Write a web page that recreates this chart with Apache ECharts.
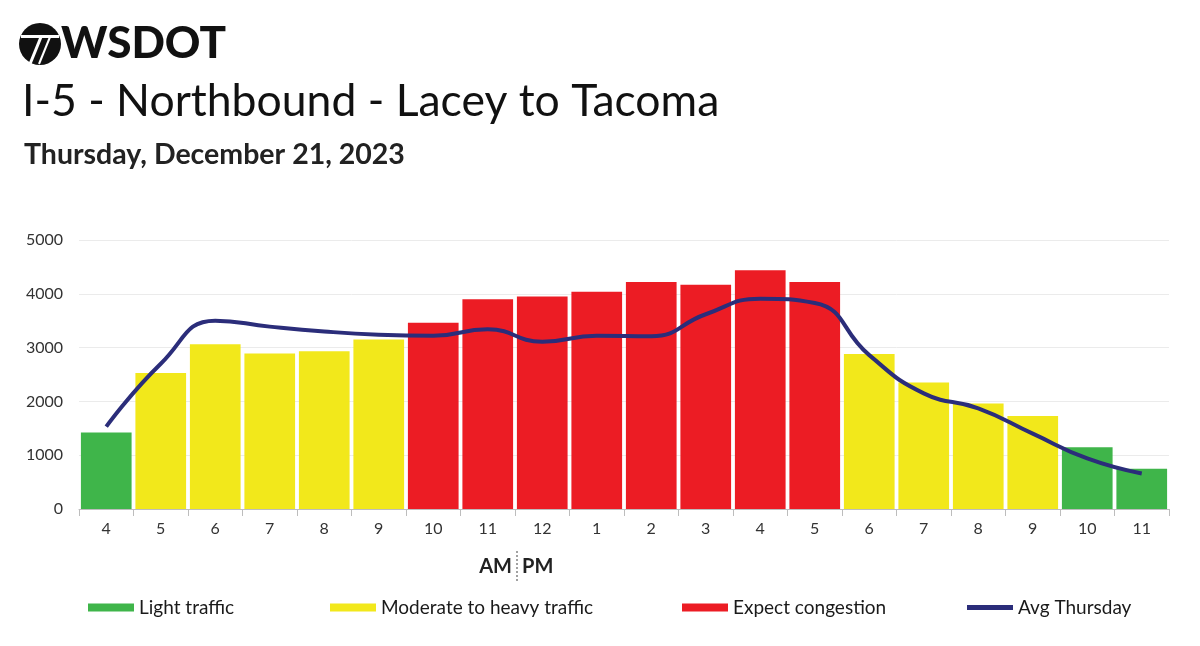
<!DOCTYPE html>
<html>
<head>
<meta charset="utf-8">
<script src="https://cdn.jsdelivr.net/npm/echarts@6/dist/echarts.min.js"></script>
<style>
  html, body { margin: 0; padding: 0; background: #fff; }
  #chart { width: 1200px; height: 646px; }
</style>
</head>
<body>
<div id="chart"></div>
<script>
// hour of day, 4 AM through 11 PM
const hours = ["4", "5", "6", "7", "8", "9", "10", "11", "12", "1", "2", "3", "4", "5", "6", "7", "8", "9", "10", "11"];
// traffic volume for the day
const volume = [1420, 2530, 3060, 2890, 2930, 3150, 3460, 3900, 3950, 4040, 4220, 4170, 4440, 4220, 2880, 2350, 1960, 1730, 1150, 750];
// level per hour: 0 light, 1 moderate/heavy, 2 congestion
const level = [0, 1, 1, 1, 1, 1, 2, 2, 2, 2, 2, 2, 2, 2, 1, 1, 1, 1, 0, 0];
// average thursday curve
const avgThursday = [1530, 2700, 3500, 3390, 3300, 3240, 3220, 3340, 3110, 3220, 3210, 3620, 3910, 3830, 2860, 2150, 1870, 1400, 940, 660];
const yTicks = [0, 1000, 2000, 3000, 4000, 5000];

const levelNames = ["Light traffic", "Moderate to heavy traffic", "Expect congestion"];
const levelColors = ["#3fb54a", "#f2e81b", "#ec1c24"];
const lineName = "Avg Thursday";
const lineColor = "#2b2d7a";
const font = "Lato, 'Noto Sans', sans-serif";

const chart = echarts.init(document.getElementById("chart"));

function levelData(lv) {
  return volume.map((v, i) => (level[i] === lv ? v : "-"));
}

const barSeries = levelNames.map((name, lv) => ({
  name: name,
  type: "bar",
  stack: "traffic",
  barCategoryGap: "7%",
  itemStyle: { color: levelColors[lv] },
  data: levelData(lv),
}));

// one legend per item so each sits where it does in the original
const legendLeft = [83, 325, 677, 962];
const legendItems = [...levelNames, lineName];
const legends = legendItems.map((name, i) => ({
  left: legendLeft[i],
  top: 593,
  itemWidth: 46,
  itemHeight: i === 3 ? 5 : 8,
  itemGap: 0,
  selectedMode: false,
  textStyle: { fontSize: 19, color: "#1a1a1a", fontFamily: font },
  data: [{ name: name, icon: "rect" }],
}));

chart.setOption({
  animation: false,
  textStyle: { fontFamily: font },
  title: [
    {
      text: "I-5 - Northbound - Lacey to Tacoma",
      left: 17,
      top: 74,
      textStyle: { fontFamily: font, fontSize: 44.5, fontWeight: "normal", color: "#111" },
    },
    {
      text: "Thursday, December 21, 2023",
      left: 19,
      top: 135,
      textStyle: { fontFamily: font, fontSize: 28.5, fontWeight: "bold", color: "#222" },
    },
  ],
  legend: legends,
  grid: { left: 79, right: 31, top: 240, bottom: 137 },
  xAxis: {
    type: "category",
    data: hours,
    axisLine: { lineStyle: { color: "#bdbdbd", width: 1 } },
    axisTick: { show: true, length: 7, lineStyle: { color: "#bdbdbd" } },
    axisLabel: { fontSize: 16, color: "#333", margin: 12 },
  },
  yAxis: {
    type: "value",
    min: yTicks[0],
    max: yTicks[yTicks.length - 1],
    interval: 1000,
    axisLine: { show: false },
    axisTick: { show: false },
    axisLabel: { fontSize: 16, color: "#333", margin: 16, formatter: (v) => String(v) },
    splitLine: { lineStyle: { color: "#ebebeb" } },
  },
  graphic: [
    // WSDOT emblem
    { type: "circle", shape: { cx: 40, cy: 44, r: 21 }, style: { fill: "#111" } },
    { type: "rect", shape: { x: 21, y: 35, width: 38, height: 3 }, style: { fill: "#fff" } },
    { type: "line", shape: { x1: 41, y1: 37, x2: 30, y2: 64 }, style: { stroke: "#fff", lineWidth: 3 } },
    { type: "line", shape: { x1: 50, y1: 37, x2: 39, y2: 64 }, style: { stroke: "#fff", lineWidth: 2 } },
    {
      type: "text",
      left: 61,
      top: 22,
      style: { text: "WSDOT", font: "900 44px " + font, fill: "#111" },
    },
    // AM | PM
    {
      type: "text",
      x: 512,
      y: 567,
      style: { text: "AM", font: "bold 20px " + font, fill: "#222", align: "right", verticalAlign: "middle" },
    },
    {
      type: "line",
      shape: { x1: 517, y1: 551, x2: 517, y2: 582 },
      style: { stroke: "#444", lineWidth: 1, lineDash: [2, 2] },
    },
    {
      type: "text",
      x: 522,
      y: 567,
      style: { text: "PM", font: "bold 20px " + font, fill: "#222", align: "left", verticalAlign: "middle" },
    },
  ],
  series: [
    ...barSeries,
    {
      name: lineName,
      type: "line",
      smooth: 0.5,
      symbol: "none",
      z: 5,
      lineStyle: { color: lineColor, width: 4 },
      itemStyle: { color: lineColor },
      data: avgThursday,
    },
  ],
});
</script>
</body>
</html>
